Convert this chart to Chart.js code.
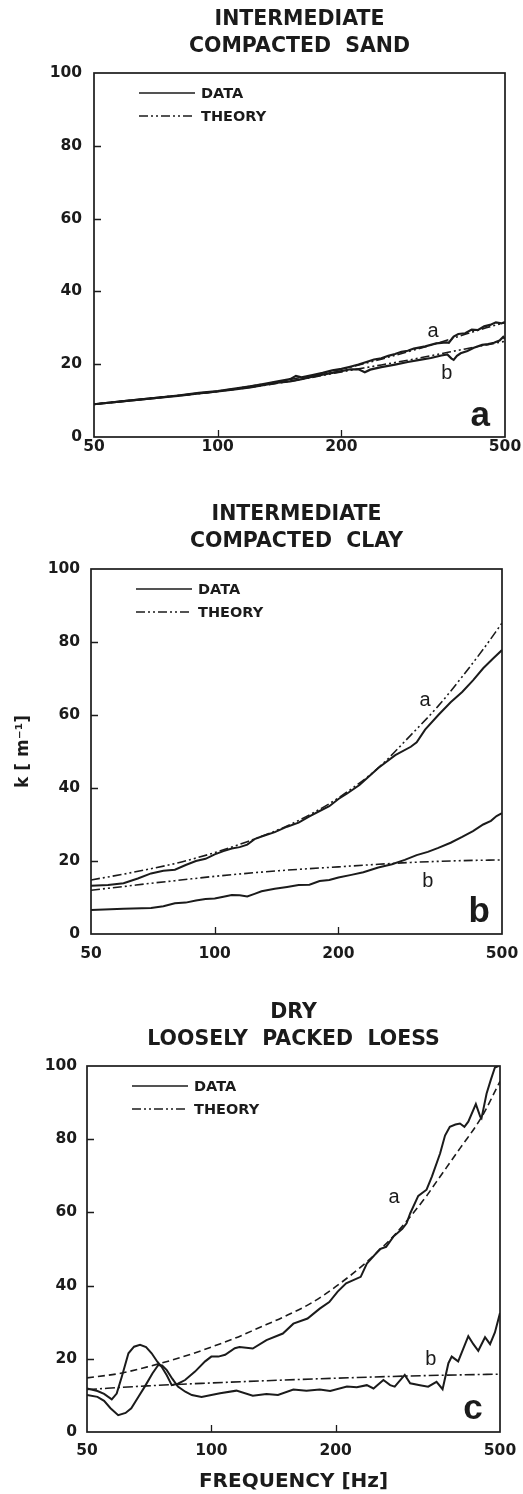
<!DOCTYPE html>
<html>
<head>
<meta charset="utf-8">
<script src="https://cdn.jsdelivr.net/npm/chart.js@4.4.1/dist/chart.umd.min.js"></script>
<style>
  body { margin: 0; background: #fff; }
  #page { position: relative; width: 523px; height: 1494px; background: #fff; }
  #page canvas { position: absolute; left: 0; }
</style>
</head>
<body>
<div id="page">
  <canvas id="sand" width="523" height="480" style="top:0px"></canvas>
  <canvas id="clay" width="523" height="500" style="top:480px"></canvas>
  <canvas id="loess" width="523" height="514" style="top:980px"></canvas>
</div>
<script>
// frequency axis and k axis
const xTickValues = [50, 100, 200, 500];
const xInnerTicks = [100, 200];
const yInnerTicks = [20, 40, 60, 80];

// [frequency Hz, k m^-1]
const sandDataA = [[50,9.0],[60,9.9],[70,10.7],[80,11.4],[90,12.1],[100,12.6],[110,13.3],[120,13.9],[130,14.6],[140,15.3],[150,15.9],[155,16.8],[160,16.4],[170,17.0],[180,17.6],[190,18.3],[200,18.7],[210,19.3],[220,19.9],[230,20.6],[240,21.3],[250,21.6],[260,22.3],[270,22.8],[280,23.4],[290,23.7],[300,24.3],[320,24.9],[340,25.7],[360,26.0],[365,25.9],[375,27.6],[385,28.3],[400,28.5],[415,29.5],[430,29.4],[445,30.4],[460,30.8],[475,31.5],[490,31.2],[500,31.6]];
const sandDataB = [[50,9.0],[60,9.9],[70,10.7],[80,11.3],[90,12.0],[100,12.5],[110,13.1],[120,13.6],[130,14.3],[140,14.9],[150,15.3],[160,15.9],[170,16.6],[180,17.1],[190,17.6],[200,18.1],[210,18.6],[220,18.6],[228,17.8],[235,18.5],[250,19.2],[270,19.9],[290,20.6],[310,21.2],[330,21.7],[350,22.4],[362,22.7],[370,21.6],[375,21.2],[382,22.3],[390,23.0],[405,23.6],[420,24.5],[440,25.3],[455,25.5],[470,25.9],[485,26.5],[495,27.5],[500,26.9]];
const sandTheoryA = [[50,9.0],[70,10.7],[100,12.6],[150,15.8],[200,18.6],[250,21.4],[300,23.9],[350,26.1],[400,28.2],[450,30.0],[500,31.4]];
const sandTheoryB = [[50,9.0],[70,10.7],[100,12.5],[150,15.3],[200,17.9],[250,19.8],[300,21.4],[350,22.9],[400,24.2],[450,25.3],[500,26.3]];

const clayDataA = [[50,13.2],[55,13.4],[60,13.9],[65,15.2],[70,16.6],[75,17.3],[80,17.6],[85,18.9],[90,20.0],[95,20.6],[100,21.8],[105,22.7],[110,23.4],[115,23.8],[120,24.5],[125,26.0],[130,26.7],[140,27.9],[150,29.4],[160,30.5],[170,32.2],[180,33.7],[190,35.0],[200,37.0],[210,38.5],[225,40.8],[250,45.5],[275,49.0],[300,51.3],[310,52.5],[325,56.0],[350,60.0],[375,63.5],[400,66.3],[425,69.5],[450,72.8],[475,75.4],[500,77.8]];
const clayDataB = [[50,6.6],[60,6.9],[70,7.1],[75,7.6],[80,8.4],[85,8.6],[90,9.2],[95,9.6],[100,9.7],[105,10.2],[110,10.7],[115,10.6],[120,10.3],[125,11.0],[130,11.7],[140,12.4],[150,12.9],[160,13.4],[170,13.5],[180,14.5],[190,14.8],[200,15.5],[215,16.2],[230,16.9],[250,18.2],[270,19.1],[290,20.3],[310,21.6],[330,22.5],[350,23.6],[375,25.0],[400,26.6],[425,28.2],[450,30.0],[470,31.0],[485,32.3],[500,33.1]];
const clayTheoryA = [[50,14.8],[60,16.4],[70,17.9],[80,19.3],[90,20.8],[100,22.3],[120,25.3],[150,29.6],[175,33.4],[200,37.3],[250,45.5],[300,54.5],[350,62.5],[400,70.5],[450,78.0],[500,85.2]];
const clayTheoryB = [[50,12.0],[60,13.0],[70,13.9],[80,14.6],[100,15.8],[125,16.8],[150,17.5],[200,18.4],[250,19.1],[300,19.6],[350,19.9],[400,20.1],[500,20.3]];

const loessDataA = [[50,11.9],[53,11.2],[55,10.4],[57.4,8.9],[59,10.5],[60.7,15.1],[63,21.5],[65,23.3],[67.2,23.8],[69.5,23.2],[71.7,21.5],[74,19.2],[75.8,17.8],[78,15.5],[80.2,12.8],[83,13.2],[86.4,14.2],[91.3,16.5],[96.6,19.3],[100,20.6],[104,20.6],[108,21.1],[114,22.9],[117,23.2],[126,22.8],[136,25.1],[149,26.9],[158,29.6],[171,31.0],[183,33.7],[193,35.5],[202,38.3],[212,40.6],[230,42.4],[238,46.0],[256,50.0],[265,50.6],[276,53.4],[290,55.5],[297,57.0],[303,59.7],[317,64.5],[332,66.2],[342,69.8],[358,76.1],[368,81.0],[378,83.4],[390,84.0],[400,84.3],[410,83.4],[419,84.8],[437,89.6],[448,86.1],[451,85.7],[464,92.5],[475,96.2],[486,99.6],[496,100]];
const loessDataB = [[50,10.1],[53,9.6],[55,8.5],[57,6.5],[59.5,4.6],[62,5.2],[64,6.5],[66.5,9.5],[69,12.4],[72,16.0],[74.4,18.3],[76,18.2],[78,16.9],[80.5,14.5],[83,12.4],[86.5,11.0],[89.7,10.1],[94.7,9.6],[100,10.1],[105,10.6],[115,11.3],[126,9.9],[136,10.4],[145,10.1],[158,11.6],[170,11.3],[183,11.6],[194,11.2],[213,12.4],[225,12.2],[238,12.8],[247,11.9],[261,14.2],[271,12.8],[278,12.4],[294,15.6],[303,13.3],[320,12.8],[335,12.4],[351,13.7],[363,11.7],[375,18.8],[382,20.6],[396,19.3],[419,26.2],[431,24.0],[443,22.2],[460,25.9],[473,24.0],[486,27.2],[500,32.5]];
const loessTheoryA = [[50,14.8],[60,16.0],[70,17.8],[80,19.6],[90,21.4],[100,23.2],[114,25.6],[130,28.4],[150,31.5],[175,35.3],[200,39.7],[238,46.5],[276,53.5],[300,58.2],[332,64.5],[350,68.2],[400,77.5],[451,86.0],[500,95.8]];
const loessTheoryB = [[50,11.6],[70,12.6],[100,13.4],[150,14.2],[200,14.7],[300,15.3],[400,15.6],[500,15.8]];

const INK = '#1b1b1b';
const FONT = "'DejaVu Sans', 'Liberation Sans', sans-serif";
const LETTER = "'Liberation Sans', Arial, sans-serif";
const DASH_DOT_DOT = [9, 3, 2, 3, 2, 3];

Chart.defaults.font.family = FONT;
Chart.defaults.color = INK;

function curve(points, dash, width) {
  return {
    data: points.map(([f, k]) => ({x: f, y: k})),
    borderColor: INK,
    borderWidth: width,
    borderDash: dash,
    pointRadius: 0,
    tension: 0,
    cubicInterpolationMode: dash.length ? 'monotone' : 'default',
    fill: false
  };
}

// frame, inward ticks, legend and curve letters
function decor(marks, legendDash) {
  return {
    id: 'decor',
    afterDatasetsDraw(chart) {
      const {ctx, chartArea: a, scales: {x, y}} = chart;
      ctx.save();
      ctx.strokeStyle = INK;
      ctx.fillStyle = INK;
      ctx.lineWidth = 1.7;
      ctx.strokeRect(a.left, a.top, a.right - a.left, a.bottom - a.top);

      ctx.lineWidth = 1.3;
      ctx.beginPath();
      yInnerTicks.forEach(v => {
        const py = Math.round(y.getPixelForValue(v)) + 0.5;
        ctx.moveTo(a.left, py);
        ctx.lineTo(a.left + 7, py);
      });
      xInnerTicks.forEach(v => {
        const px = Math.round(x.getPixelForValue(v)) + 0.5;
        ctx.moveTo(px, a.bottom);
        ctx.lineTo(px, a.bottom - 7);
      });
      ctx.stroke();

      // legend
      const lx = a.left + 45, len = 56;
      const rows = [['DATA', [], a.top + 20], ['THEORY', legendDash, a.top + 43]];
      ctx.font = `bold 14.5px ${FONT}`;
      ctx.textBaseline = 'middle';
      ctx.textAlign = 'left';
      rows.forEach(([label, dash, ly]) => {
        ctx.lineWidth = 1.6;
        ctx.setLineDash(dash);
        ctx.beginPath();
        ctx.moveTo(lx, ly);
        ctx.lineTo(lx + len, ly);
        ctx.stroke();
        ctx.setLineDash([]);
        ctx.fillText(label, lx + len + 6, ly + 1);
      });

      ctx.textAlign = 'center';
      ctx.textBaseline = 'alphabetic';
      marks.forEach(m => {
        ctx.font = m.font;
        ctx.fillText(m.text, x.getPixelForValue(m.f), y.getPixelForValue(m.k));
      });
      ctx.restore();
    }
  };
}

function panel(id, o) {
  return new Chart(document.getElementById(id), {
    type: 'line',
    data: {datasets: o.datasets},
    options: {
      responsive: false,
      animation: false,
      events: [],
      layout: {padding: {left: 0, top: 0, bottom: 0, right: 523 - o.right}},
      plugins: {
        legend: {display: false},
        tooltip: {enabled: false},
        title: {
          display: true,
          text: o.title,
          fullSize: false,
          color: INK,
          font: {family: FONT, size: 20.5, weight: 'bold', lineHeight: '27px'},
          padding: o.titlePad
        }
      },
      scales: {
        x: {
          type: 'logarithmic',
          min: 50,
          max: 500,
          afterBuildTicks: s => { s.ticks = xTickValues.map(v => ({value: v})); },
          afterFit: s => { s.height = o.xHeight; },
          grid: {display: false, drawTicks: false},
          border: {display: false},
          ticks: {
            callback: v => String(v),
            autoSkip: false,
            maxRotation: 0,
            padding: 1,
            color: INK,
            // label row height sets how far below the frame the numbers sit
            font: {family: FONT, size: 15.5, weight: 'bold', lineHeight: o.xRow}
          },
          title: o.xTitle
            ? {display: true, text: o.xTitle, color: INK, padding: {top: 0, bottom: 0},
               font: {family: FONT, size: 20, weight: 'bold'}}
            : {display: false}
        },
        y: {
          min: 0,
          max: 100,
          afterFit: s => { s.width = o.left; },
          grid: {display: false, drawTicks: false},
          border: {display: false},
          ticks: {
            stepSize: 20,
            padding: o.yPad,
            color: INK,
            font: {family: FONT, size: 15.5, weight: 'bold'}
          },
          title: o.yTitle
            ? {display: true, text: o.yTitle, color: INK, padding: {top: 13, bottom: 0},
               font: {family: FONT, size: 17, weight: 'bold'}}
            : {display: false}
        }
      }
    },
    plugins: [decor(o.marks, o.legendDash)]
  });
}

const small = `20px ${LETTER}`;
const big = `bold 35px ${LETTER}`;

panel('sand', {
  title: ['INTERMEDIATE', 'COMPACTED  SAND'],
  titlePad: {top: 6.5, bottom: 12.5},
  left: 94, right: 505, xHeight: 43, xRow: '18px', yPad: 12,
  legendDash: DASH_DOT_DOT,
  datasets: [
    curve(sandTheoryA, DASH_DOT_DOT, 1.6),
    curve(sandTheoryB, DASH_DOT_DOT, 1.6),
    curve(sandDataA, [], 2.2),
    curve(sandDataB, [], 2.2)
  ],
  marks: [
    {text: 'a', f: 334, k: 27.5, font: small},
    {text: 'b', f: 361, k: 15.9, font: small},
    {text: 'a', f: 435, k: 3.0, font: big}
  ]
});

panel('clay', {
  title: ['INTERMEDIATE', 'COMPACTED  CLAY'],
  titlePad: {top: 21.5, bottom: 13.5},
  left: 91, right: 502, xHeight: 46, xRow: '37px', yPad: 11,
  yTitle: 'k [ m\u207B\u00B9]',
  legendDash: DASH_DOT_DOT,
  datasets: [
    curve(clayTheoryA, DASH_DOT_DOT, 1.6),
    curve(clayTheoryB, DASH_DOT_DOT, 1.6),
    curve(clayDataA, [], 2),
    curve(clayDataB, [], 2)
  ],
  marks: [
    {text: 'a', f: 325, k: 62.5, font: small},
    {text: 'b', f: 330, k: 12.9, font: small},
    {text: 'b', f: 440, k: 3.3, font: big}
  ]
});

panel('loess', {
  title: ['DRY', 'LOOSELY  PACKED  LOESS'],
  titlePad: {top: 19, bottom: 13},
  left: 87, right: 500, xHeight: 62, xRow: '36px', yPad: 10,
  xTitle: 'FREQUENCY [Hz]',
  legendDash: DASH_DOT_DOT,
  datasets: [
    curve(loessTheoryA, [7, 4], 1.6),
    curve(loessTheoryB, [10, 3, 2, 3], 1.6),
    curve(loessDataA, [], 2),
    curve(loessDataB, [], 2)
  ],
  marks: [
    {text: 'a', f: 277, k: 62.6, font: small},
    {text: 'b', f: 340, k: 18.3, font: small},
    {text: 'c', f: 430, k: 3.6, font: big}
  ]
});
</script>
</body>
</html>
